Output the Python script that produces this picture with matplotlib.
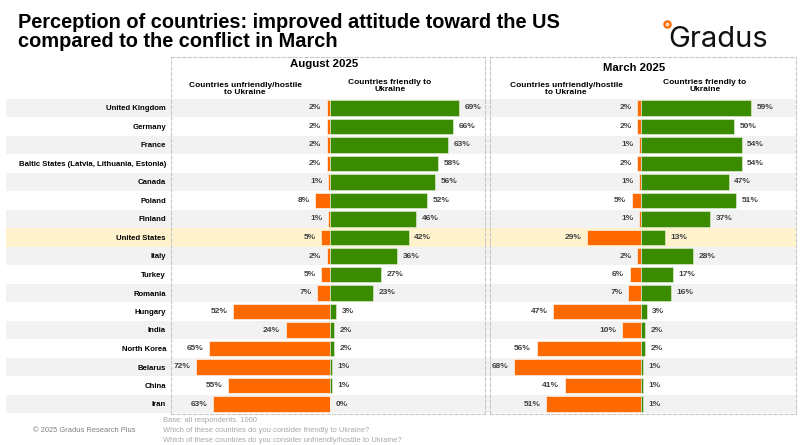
from matplotlib import pyplot as plt
from matplotlib import font_manager

countries = ["United Kingdom", "Germany", "France",
             "Baltic States (Latvia, Lithuania, Estonia)", "Canada", "Poland",
             "Finland", "United States", "Italy", "Turkey", "Romania", "Hungary",
             "India", "North Korea", "Belarus", "China", "Iran"]
aug_friendly = [69, 66, 63, 58, 56, 52, 46, 42, 36, 27, 23, 3, 2, 2, 1, 1, 0]
aug_hostile = [2, 2, 2, 2, 1, 8, 1, 5, 2, 5, 7, 52, 24, 65, 72, 55, 63]
mar_friendly = [59, 50, 54, 54, 47, 51, 37, 13, 28, 17, 16, 3, 2, 2, 1, 1, 1]
mar_hostile = [2, 2, 1, 2, 1, 5, 1, 29, 2, 6, 7, 47, 10, 56, 68, 41, 51]
highlight = "United States"

W, H = 800, 445
GREEN = "#3a8b00"
ORANGE = "#ff6a00"
TXT = "#404040"
PX_PER_PCT = 1.865
ROW0, PITCH = 108, 18.5
BOX_TOP, BOX_BOT = 56.7, 414

names = {f.name for f in font_manager.fontManager.ttflist}
NARROW = "Liberation Sans Narrow" if "Liberation Sans Narrow" in names else None
plt.rcParams['font.family'] = ['Liberation Sans', 'DejaVu Sans']


def fx(px):
    return px / W


def fy(py):
    return 1 - py / H


def panel(fig, left, right, zero, friendly, hostile, with_labels):
    ax = fig.add_axes([fx(left), fy(BOX_BOT), (right - left) / W, (BOX_BOT - BOX_TOP) / H])
    ax.set_facecolor('none')
    ax.set_xlim(-(zero - left) / PX_PER_PCT, (right - zero) / PX_PER_PCT)
    n = len(countries)
    ax.set_ylim(n - 1 + (BOX_BOT - (ROW0 + (n - 1) * PITCH)) / PITCH, -(ROW0 - BOX_TOP) / PITCH)
    y = list(range(n))
    ax.barh(y, [-v for v in hostile], height=0.86, color=ORANGE,
            edgecolor=(1, 1, 1, 0.6), linewidth=0.7)
    ax.barh(y, friendly, height=0.86, color=GREEN,
            edgecolor=(1, 1, 1, 0.45), linewidth=0.7)
    for i, (h, f) in enumerate(zip(hostile, friendly)):
        ax.annotate(f"{h}%", (-h, i), xytext=(-4, 0), textcoords='offset points',
                    ha='right', va='center', fontsize=6, fontweight='bold', color=TXT)
        ax.annotate(f"{f}%", (f, i), xytext=(4, 0), textcoords='offset points',
                    ha='left', va='center', fontsize=6, fontweight='bold', color=TXT)
    ax.set_xticks([])
    if with_labels:
        ax.set_yticks(y)
        if NARROW:
            ax.set_yticklabels(countries, fontsize=6.8, fontweight='bold', family=NARROW)
        else:
            ax.set_yticklabels(countries, fontsize=5.6, fontweight='bold')
        ax.tick_params(axis='y', length=0, pad=3.6, labelcolor='black')
    else:
        ax.set_yticks([])
    for s in ax.spines.values():
        s.set_linestyle((0, (3, 2)))
        s.set_color('#c8c8c8')
        s.set_linewidth(0.8)
    return ax


def main():
    fig = plt.figure(figsize=(8, 4.45), dpi=100)

    # row stripes behind both panels
    n = len(countries)
    bg = fig.add_axes([fx(6), fy(ROW0 + (n - 0.5) * PITCH), 790 / W, n * PITCH / H])
    bg.set_xlim(0, 1)
    bg.set_ylim(n - 0.5, -0.5)
    for i, c in enumerate(countries):
        if c == highlight:
            bg.axhspan(i - 0.5, i + 0.5, color='#fff2cc', lw=0)
        elif i % 2 == 0:
            bg.axhspan(i - 0.5, i + 0.5, color='#f2f2f2', lw=0)
    bg.axis('off')

    panel(fig, 171, 485, 330.3, aug_friendly, aug_hostile, True)
    panel(fig, 490, 796, 641, mar_friendly, mar_hostile, False)

    # title
    fig.text(fx(18), fy(28), "Perception of countries: improved attitude toward the US",
             fontsize=14.4, fontweight='bold', va='baseline', color='black')
    fig.text(fx(18), fy(47), "compared to the conflict in March",
             fontsize=14.4, fontweight='bold', va='baseline', color='black')

    # logo
    fig.text(fx(668), fy(47), "Gradus", fontsize=21, family=['Inter', 'DejaVu Sans'],
             va='baseline', ha='left', color='#111111')
    fig.add_artist(plt.Line2D([fx(667)], [fy(24)], marker='o', markersize=4.5,
                              markerfacecolor='#ffd9b3', markeredgecolor=ORANGE,
                              markeredgewidth=1.6, transform=fig.transFigure))

    # panel headers
    hdr = dict(fontsize=6, fontweight='bold', ha='center', va='center',
               color='black', linespacing=1.1)
    fig.text(fx(324), fy(64), "August 2025", fontsize=8.2, fontweight='bold',
             ha='center', va='center')
    fig.text(fx(245), fy(89), "Countries unfriendly/hostile\nto Ukraine", **hdr)
    fig.text(fx(390), fy(86), "Countries friendly to\nUkraine", **hdr)
    fig.text(fx(634), fy(68), "March 2025", fontsize=8.2, fontweight='bold',
             ha='center', va='center')
    fig.text(fx(566), fy(89), "Countries unfriendly/hostile\nto Ukraine", **hdr)
    fig.text(fx(705), fy(86), "Countries friendly to\nUkraine", **hdr)

    # footer
    fig.text(fx(33), fy(431), "\u00a9 2025 Gradus Research Plus", fontsize=5.4,
             color='#7f7f7f', va='center')
    notes = ["Base: all respondents. 1000",
             "Which of these countries do you consider friendly to Ukraine?",
             "Which of these countries do you consider unfriendly/hostile to Ukraine?"]
    for k, line in enumerate(notes):
        fig.text(fx(163), fy(421 + 9.5 * k), line, fontsize=5.4, color='#a6a6a6', va='center')

    fig.savefig("out.png", dpi=100)


if __name__ == "__main__":
    main()
